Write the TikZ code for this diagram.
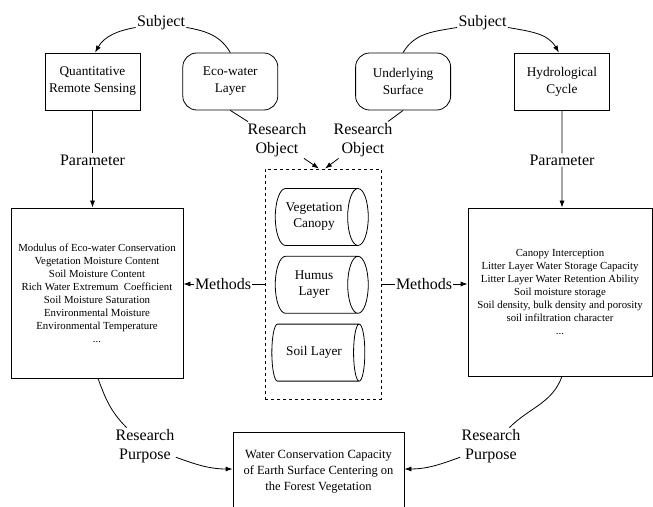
\documentclass[tikz,border=0pt]{standalone}
\usepackage{fontspec}
\setmainfont{Liberation Serif}
\usetikzlibrary{positioning,shapes.geometric,arrows.meta}

\begin{document}
\begin{tikzpicture}[x=1pt, y=1pt, line width=0.8pt,
        >={Latex[length=7pt,width=5pt]},
        box/.style={draw, minimum width=95pt, minimum height=57pt, align=center, font=\rmfamily\fontsize{13.3}{17}\selectfont},
        roundbox/.style={box, rounded corners=14pt},
        lab/.style={align=center, inner sep=1pt, font=\rmfamily\fontsize{16}{19.5}\selectfont},
        listbox/.style={draw, align=center, font=\rmfamily\fontsize{10.8}{13}\selectfont},
        layer/.style={draw, cylinder, shape aspect=0.6, minimum width=57pt, minimum height=93pt, align=center, font=\rmfamily\fontsize{13.3}{16}\selectfont}]
    \useasboundingbox (0,0) rectangle (653,506);
    \clip (0,0) rectangle (653,506);

    % top row
    \node[box] (qrs) at (92.5,424.5) {Quantitative\\Remote Sensing};
    \node[roundbox, right=42pt of qrs] (eco) {Eco-water\\Layer};
    \node[roundbox, right=77pt of eco] (und) {Underlying\\Surface};
    \node[box, right=63pt of und] (hyd) {Hydrological\\Cycle};

    \node[lab] (subjL) at (161,483) {Subject};
    \node[lab] (subjR) at (482.5,483) {Subject};
    \node[lab] (parL) at (92.5,346) {Parameter};
    \node[lab] (parR) at (562,346) {Parameter};
    \node[lab] (roL) at (277,366) {Research\\Object};
    \node[lab] (roR) at (363,366) {Research\\Object};

    % middle row
    \node[listbox, minimum width=172pt, minimum height=170pt] (modbox) at (97,213)
        {Modulus of Eco-water Conservation\\Vegetation Moisture Content\\Soil Moisture Content\\
         Rich Water Extremum\ \ Coefficient\\Soil Moisture Saturation\\Environmental Moisture\\
         Environmental Temperature\\...};
    \node[listbox, minimum width=184pt, minimum height=168pt] (hydbox) at (560,214)
        {Canopy Interception\\Litter Layer Water Storage Capacity\\Litter Layer Water Retention Ability\\
         Soil moisture storage\\Soil density, bulk density and porosity\\soil infiltration character\\...};
    \node[draw, dashed, minimum width=116pt, minimum height=230pt] (layers) at (323,222) {};
    \node[layer] (canopy) at (314,289) {Vegetation\\Canopy};
    \node[layer, below=10pt of canopy] (humus) {Humus\\Layer};
    \node[layer, below=10pt of humus] (soil) {Soil Layer};
    \node[lab] (methL) at (223,222) {Methods};
    \node[lab] (methR) at (424,222) {Methods};

    % bottom
    \node[lab] (rpL) at (145,60) {Research\\Purpose};
    \node[lab] (rpR) at (491,60) {Research\\Purpose};
    \node[draw, align=center, minimum width=171pt, minimum height=80pt, font=\rmfamily\fontsize{12.5}{16}\selectfont] (goal) at (318.5,34)
        {Water Conservation Capacity\\of Earth Surface Centering on\\the Forest Vegetation};

    % connectors
    \draw[->] (eco.north) to[out=120,in=-10] (subjL) to[out=190,in=60] ([xshift=2.5pt]qrs.north);
    \draw[->] (und.north) to[out=60,in=190] (subjR) to[out=-10,in=120] ([xshift=-3pt]hyd.north);
    \draw[->] (qrs.south) -- (parL) -- (parL |- modbox.north);
    \draw[->] (hyd.south) -- (parR) -- (parR |- hydbox.north);
    \draw[->] (eco.south) -- (roL) -- ([xshift=-4pt]layers.north);
    \draw[->] (und.south) -- (roR) -- ([xshift=2pt]layers.north);
    \draw[->] (layers.west) -- (methL) -- (methL -| modbox.east);
    \draw[->] (layers.east) -- (methR) -- (methR -| hydbox.west);
    \draw[->] ([xshift=1pt]modbox.south) to[out=-70,in=135] (rpL) to[out=-20,in=180] ([yshift=3pt]goal.west);
    \draw[->] ([xshift=2pt]hydbox.south) to[out=-110,in=45] (rpR) to[out=200,in=0] ([yshift=3pt]goal.east);
\end{tikzpicture}
\end{document}
